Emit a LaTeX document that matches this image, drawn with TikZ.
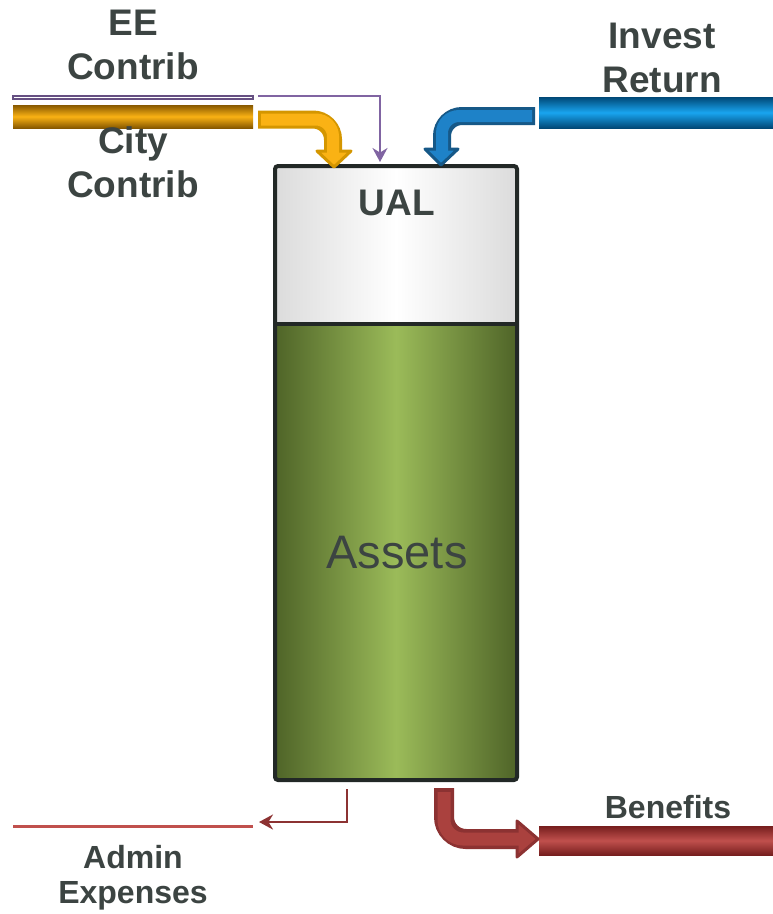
\documentclass[tikz,border=0pt]{standalone}
\usepackage{fontspec}
\setmainfont{Liberation Sans}
\usetikzlibrary{positioning,arrows.meta}
\definecolor{labelgray}{RGB}{60,68,66}
\definecolor{tankedge}{RGB}{34,40,38}
\definecolor{assetdark}{RGB}{79,100,40}
\definecolor{assetlight}{RGB}{155,187,89}
\definecolor{golddark}{RGB}{135,88,0}
\definecolor{goldlight}{RGB}{250,178,20}
\definecolor{goldedge}{RGB}{212,150,0}
\definecolor{bluedark}{RGB}{0,72,118}
\definecolor{bluelight}{RGB}{25,165,240}
\definecolor{blueedge}{RGB}{22,88,135}
\definecolor{bluefill}{RGB}{30,130,200}
\definecolor{reddark}{RGB}{118,30,30}
\definecolor{redlight}{RGB}{192,80,77}
\definecolor{rededge}{RGB}{140,50,50}
\definecolor{redfill}{RGB}{170,65,62}
\definecolor{eepurple}{RGB}{128,100,162}

\begin{document}
\begin{tikzpicture}[x=1pt,y=-1pt,
    lbl/.style={text=labelgray, align=center, font=\fontsize{37}{44}\selectfont\bfseries},
    smalllbl/.style={text=labelgray, align=center, font=\fontsize{32}{35}\selectfont\bfseries},
    pipe/.style={minimum width=#1, inner sep=0pt, outer sep=0pt},
    part/.style={minimum width=242pt, inner sep=0pt, outer sep=0pt}]
    \useasboundingbox (0,0) rectangle (773,914);

    % tank
    \node[part, minimum height=158pt, left color=gray!28, right color=gray!28,
          middle color=white] (ual) at (396,245) {};
    \node[part, minimum height=456pt, left color=assetdark, right color=assetdark,
          middle color=assetlight] (assets) at (396,552) {};
    \draw[line width=4pt, rounded corners=3pt, tankedge] (ual.north west) rectangle (assets.south east);
    \draw[line width=4pt, tankedge] (ual.south west) -- (ual.south east);
    \node[text=labelgray, font=\fontsize{37}{40}\selectfont\bfseries] (ualtext) at (397,203) {UAL};
    \node[text=labelgray, font=\fontsize{47}{52}\selectfont] (assetstext) at (397,553) {Assets};

    % pipes
    \node[pipe=240pt, minimum height=3pt, draw=eepurple!80!black, line width=1.2pt, fill=white] (eepipe) at (133,97.5) {};
    \node[pipe=240pt, minimum height=23pt, top color=golddark, bottom color=golddark,
          middle color=goldlight] (citypipe) at (133,116.5) {};
    \node[pipe=234pt, minimum height=31pt, top color=bluedark, bottom color=bluedark,
          middle color=bluelight] (investpipe) at (656,112.5) {};
    \node[pipe=240pt, minimum height=2.5pt, fill=redlight] (adminpipe) at (133,826.5) {};
    \node[pipe=234pt, minimum height=29pt, top color=reddark, bottom color=reddark,
          middle color=redlight] (benefitspipe) at (656,840.5) {};

    % labels
    \node[lbl] (eelbl) at (133,45) {EE\\Contrib};
    \node[lbl] (citylbl) at (133,162) {City\\Contrib};
    \node[lbl] (investlbl) at (662,58) {Invest\\Return};
    \node[smalllbl] (adminlbl) at (133,878) {Admin\\Expenses};
    \node[smalllbl] (benefitslbl) at (668,807) {Benefits};

    % ee contrib
    \coordinate (eein) at (380,162);
    \draw[eepurple, line width=2pt, -{Stealth[length=14pt,width=15pt]}]
        (eepipe.east) ++(5,-1.5) -| (eein);

    % city contrib
    \coordinate (cityin) at (334,167);
    \draw[goldedge, line width=18pt, rounded corners=20pt] (citypipe.east) ++(5,3) -| (333,150);
    \filldraw[fill=goldlight, draw=goldedge, line width=3pt, line join=round]
        (317,151) -- (351,151) -- (cityin) -- cycle;
    \draw[goldlight, line width=12pt, rounded corners=17pt] (citypipe.east) ++(8,3) -| (333,154);

    % invest return
    \coordinate (investin) at (441,165);
    \draw[blueedge, line width=18pt, rounded corners=20pt] (investpipe.west) ++(-4,3.5) -| (442,148);
    \filldraw[fill=bluefill, draw=blueedge, line width=3pt, line join=round]
        (425,149) -- (458,149) -- (investin) -- cycle;
    \draw[bluefill, line width=12pt, rounded corners=17pt] (investpipe.west) ++(-7,3.5) -| (442,152);

    % admin expenses
    \coordinate (adminout) at (259,822);
    \draw[rededge, line width=2.5pt, -{Stealth[length=14pt,width=15pt]}]
        (347,789) |- (adminout);

    % benefits
    \coordinate (benefitsout) at (538,839);
    \draw[rededge, line width=20pt, rounded corners=22pt] (444,788) |- (517,839);
    \filldraw[fill=redfill, draw=rededge, line width=3pt, line join=round]
        (517,821) -- (517,857) -- (benefitsout) -- cycle;
    \draw[redfill, line width=13pt, rounded corners=19pt] (444,792) |- (520,839);
\end{tikzpicture}
\end{document}
